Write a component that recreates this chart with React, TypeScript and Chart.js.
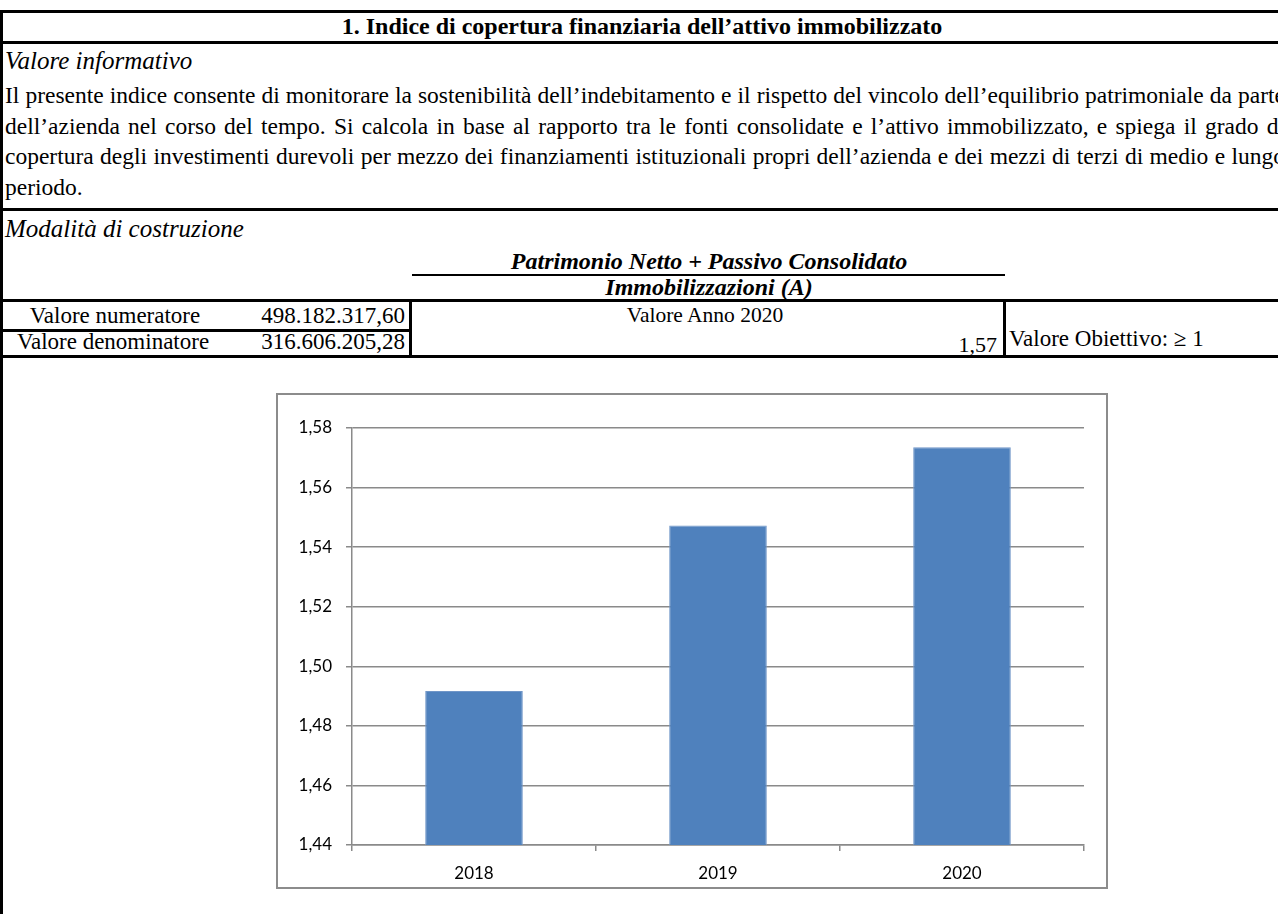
import React, { useEffect, useRef } from "react";
import { Chart, registerables } from "chart.js";

Chart.register(...registerables);

const years: string[] = ["2018", "2019", "2020"];
const ratioValues: number[] = [1.4917, 1.5473, 1.5735];
const yMin = 1.44;
const yMax = 1.58;
const yStep = 0.02;

const titleText = "1. Indice di copertura finanziaria dell’attivo immobilizzato";
const paragraphLines: string[] = [
  "Il presente indice consente di monitorare la sostenibilità dell’indebitamento e il rispetto del vincolo dell’equilibrio patrimoniale da parte",
  "dell’azienda nel corso del tempo. Si calcola in base al rapporto tra le fonti consolidate e l’attivo immobilizzato, e spiega il grado di",
  "copertura degli investimenti durevoli per mezzo dei finanziamenti istituzionali propri dell’azienda e dei mezzi di terzi di medio e lungo",
  "periodo.",
];
const numeratorLabel = "Valore numeratore";
const numeratorValue = "498.182.317,60";
const denominatorLabel = "Valore denominatore";
const denominatorValue = "316.606.205,28";
const yearLabel = "Valore Anno 2020";
const yearValue = "1,57";
const targetLabel = "Valore Obiettivo: ≥ 1";

const SERIF = '"Liberation Serif", "Times New Roman", serif';

type TProps = {
  x: number;
  baseline: number;
  size?: number;
  align?: "left" | "right" | "center";
  style?: React.CSSProperties;
  children: React.ReactNode;
};

function T({ x, baseline, size = 23, align = "left", style, children }: TProps) {
  const W = 1000;
  const left = align === "left" ? x : align === "right" ? x - W : x - W / 2;
  return (
    <div
      style={{
        position: "absolute",
        left,
        top: baseline - (10 + 0.3375 * size),
        width: W,
        textAlign: align,
        lineHeight: "20px",
        fontSize: size,
        whiteSpace: "nowrap",
        ...style,
      }}
    >
      {children}
    </div>
  );
}

function Rule({ x, y, w, h }: { x: number; y: number; w: number; h: number }) {
  return <div style={{ position: "absolute", left: x, top: y, width: w, height: h, background: "#000" }} />;
}

function BarChart() {
  const ref = useRef<HTMLCanvasElement | null>(null);
  useEffect(() => {
    if (!ref.current) return;
    const chart = new Chart(ref.current, {
      type: "bar",
      data: {
        labels: years,
        datasets: [
          {
            data: ratioValues,
            backgroundColor: "#4F81BD",
            borderColor: "#7096C8",
            borderWidth: 1,
            barPercentage: 0.4,
            categoryPercentage: 1.0,
          },
        ],
      },
      options: {
        animation: false,
        responsive: false,
        maintainAspectRatio: false,
        layout: { padding: { left: 0, right: 22, top: 33, bottom: 0 } },
        plugins: { legend: { display: false }, tooltip: { enabled: false } },
        scales: {
          x: {
            offset: true,
            grid: {
              offset: true,
              drawOnChartArea: false,
              drawTicks: true,
              tickLength: 6,
              color: "#8a8a8a",
              lineWidth: 1.5,
            },
            border: { display: true, color: "#8a8a8a", width: 1.5 },
            ticks: {
              color: "#000",
              padding: 12,
              font: { family: "Lato, 'Open Sans', sans-serif", size: 17 },
            },
            afterFit: (scale: any) => {
              scale.height = 42;
            },
          },
          y: {
            min: yMin,
            max: yMax,
            grid: { color: "#8a8a8a", lineWidth: 1.5, tickLength: 6, drawTicks: true },
            border: { display: true, color: "#8a8a8a", width: 1.5 },
            ticks: {
              stepSize: yStep,
              color: "#000",
              padding: 14,
              font: { family: "Lato, 'Open Sans', sans-serif", size: 17 },
              callback: (v: any) => Number(v).toFixed(2).replace(".", ","),
            },
            afterFit: (scale: any) => {
              scale.width = 74;
            },
          },
        },
      },
    });
    return () => chart.destroy();
  }, []);
  return <canvas ref={ref} width={828} height={492} style={{ display: "block", width: 828, height: 492 }} />;
}

export default function App() {
  const paraSize = 23.5;
  return (
    <div
      style={{
        position: "fixed",
        left: 0,
        top: 0,
        width: 1278,
        height: 914,
        overflow: "hidden",
        background: "#fff",
        fontFamily: SERIF,
        color: "#000",
      }}
    >
      {/* borders */}
      <Rule x={0} y={10} w={1278} h={3} />
      <Rule x={0} y={10} w={3} h={904} />
      <Rule x={0} y={41} w={1278} h={3} />
      <Rule x={0} y={208} w={1278} h={3} />
      <Rule x={412} y={274} w={593} h={2} />
      <Rule x={0} y={299} w={1278} h={3} />
      <Rule x={0} y={329} w={410} h={3} />
      <Rule x={0} y={355} w={1278} h={3} />
      <Rule x={409} y={299} w={3} h={59} />
      <Rule x={1003} y={299} w={3} h={59} />

      <T x={642} baseline={34} size={24} align="center" style={{ fontWeight: "bold" }}>
        {titleText}
      </T>
      <T x={5} baseline={69} size={25} style={{ fontStyle: "italic" }}>
        Valore informativo
      </T>
      <div style={{ position: "absolute", left: 5, top: 0, width: 1280 }}>
        {paragraphLines.map((line, i) => (
          <div
            key={i}
            style={{
              position: "absolute",
              left: 0,
              top: 103 + i * 30.5 - (10 + 0.3375 * paraSize),
              width: 1280,
              fontSize: paraSize,
              lineHeight: "20px",
              whiteSpace: "nowrap",
              textAlign: i < paragraphLines.length - 1 ? "justify" : "left",
              textAlignLast: i < paragraphLines.length - 1 ? "justify" : "left",
            } as React.CSSProperties}
          >
            {line}
          </div>
        ))}
      </div>
      <T x={5} baseline={237} size={25} style={{ fontStyle: "italic" }}>
        Modalità di costruzione
      </T>
      <T x={709} baseline={269} size={24} align="center" style={{ fontStyle: "italic", fontWeight: "bold" }}>
        Patrimonio Netto + Passivo Consolidato
      </T>
      <T x={709} baseline={295} size={24} align="center" style={{ fontStyle: "italic", fontWeight: "bold" }}>
        Immobilizzazioni (A)
      </T>
      <T x={115} baseline={324} align="center">
        {numeratorLabel}
      </T>
      <T x={405} baseline={324} align="right">
        {numeratorValue}
      </T>
      <T x={113} baseline={350} align="center">
        {denominatorLabel}
      </T>
      <T x={405} baseline={350} align="right">
        {denominatorValue}
      </T>
      <T x={705} baseline={322} size={21.5} align="center">
        {yearLabel}
      </T>
      <T x={997} baseline={352} size={22} align="right">
        {yearValue}
      </T>
      <T x={1009} baseline={347}>
        {targetLabel}
      </T>

      <div
        style={{
          position: "absolute",
          left: 276,
          top: 393,
          width: 832,
          height: 496,
          boxSizing: "border-box",
          border: "2px solid #8c8c8c",
          background: "#fff",
        }}
      >
        <BarChart />
      </div>
    </div>
  );
}
